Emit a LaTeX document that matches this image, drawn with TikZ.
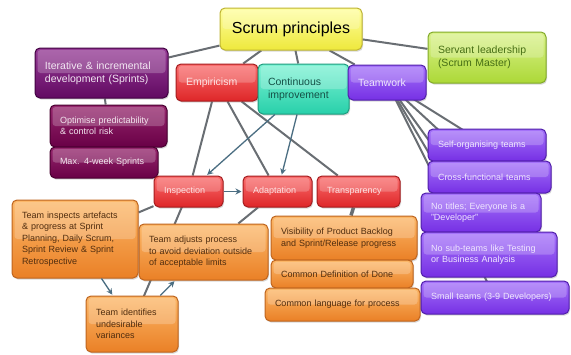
\documentclass[tikz,border=0pt]{standalone}
\usepackage{fontspec}
\setmainfont{Liberation Sans}
\usetikzlibrary{
    positioning,
    arrows.meta,
    shadows,
    backgrounds
}
\definecolor{LinkGray}{RGB}{105,110,115}
\definecolor{ArrowBlue}{RGB}{75,110,130}
\definecolor{YellowTop}{RGB}{255,255,160}
\definecolor{YellowBot}{RGB}{238,232,60}
\definecolor{YellowLine}{RGB}{190,180,50}
\definecolor{GreenTop}{RGB}{218,242,140}
\definecolor{GreenBot}{RGB}{172,216,55}
\definecolor{GreenLine}{RGB}{130,170,40}
\definecolor{GreenText}{RGB}{70,110,20}
\definecolor{PlumTop}{RGB}{150,60,150}
\definecolor{PlumBot}{RGB}{98,10,98}
\definecolor{PlumLine}{RGB}{65,0,65}
\definecolor{MaroonTop}{RGB}{150,40,110}
\definecolor{MaroonBot}{RGB}{105,0,70}
\definecolor{MaroonLine}{RGB}{72,0,48}
\definecolor{RedTop}{RGB}{250,110,110}
\definecolor{RedBot}{RGB}{222,38,40}
\definecolor{RedLine}{RGB}{165,28,30}
\definecolor{TealTop}{RGB}{125,242,212}
\definecolor{TealBot}{RGB}{40,208,170}
\definecolor{TealLine}{RGB}{30,155,125}
\definecolor{TealText}{RGB}{20,80,70}
\definecolor{VioletTop}{RGB}{165,115,250}
\definecolor{VioletBot}{RGB}{118,48,228}
\definecolor{VioletLine}{RGB}{80,30,170}
\definecolor{OrangeTop}{RGB}{252,184,105}
\definecolor{OrangeBot}{RGB}{234,128,38}
\definecolor{OrangeLine}{RGB}{190,100,30}
\definecolor{OrangeText}{RGB}{80,45,15}

\begin{document}
\begin{tikzpicture}[
    x=1pt, y=-1pt,
    cbox/.style={rectangle, rounded corners=5pt, draw, line width=1pt, inner xsep=10pt, inner ysep=2pt, align=left,
        drop shadow={shadow xshift=1pt, shadow yshift=-1.5pt, opacity=0.3},
        path picture={\fill[white, opacity=0.22, rounded corners=3pt]
            ([xshift=2.5pt, yshift=-2pt]path picture bounding box.north west) rectangle
            ([xshift=-2.5pt]path picture bounding box.east);}},
    lvlone/.style={cbox, font=\fontsize{10.5}{13}\selectfont},
    lvltwo/.style={cbox, font=\fontsize{9}{11.5}\selectfont},
    yellowbox/.style={top color=YellowTop, bottom color=YellowBot, draw=YellowLine, text=black},
    greenbox/.style={top color=GreenTop, bottom color=GreenBot, draw=GreenLine, text=GreenText},
    plumbox/.style={top color=PlumTop, bottom color=PlumBot, draw=PlumLine, text=white!88!PlumTop},
    maroonbox/.style={top color=MaroonTop, bottom color=MaroonBot, draw=MaroonLine, text=white!88!MaroonTop},
    redbox/.style={top color=RedTop, bottom color=RedBot, draw=RedLine, text=white!80!RedTop},
    tealbox/.style={top color=TealTop, bottom color=TealBot, draw=TealLine, text=TealText},
    violetbox/.style={top color=VioletTop, bottom color=VioletBot, draw=VioletLine, text=white!82!VioletTop},
    orangebox/.style={top color=OrangeTop, bottom color=OrangeBot, draw=OrangeLine, text=OrangeText},
    link/.style={draw=LinkGray, line width=2pt},
    arr/.style={-{Stealth[length=6pt, width=6pt]}, line width=1.3pt, draw=ArrowBlue, color=ArrowBlue, shorten >=1pt},
]
\useasboundingbox (0,0) rectangle (571,354);

% root and first level
\node[lvlone, yellowbox, align=center, font=\fontsize{16}{19}\selectfont, minimum width=142pt, minimum height=42pt] (scrum) at (291,29) {Scrum principles};
\node[lvlone, greenbox, text width=98pt, minimum height=51pt] (servant) at (487,57.5) {Servant leadership\\(Scrum Master)};
\node[lvlone, plumbox, text width=113pt, minimum height=50pt] (iterative) at (101.5,73) {Iterative \& incremental\\development (Sprints)};
\node[lvlone, redbox, text width=62pt, minimum height=37pt] (empiricism) at (217,82.5) {Empiricism};
\node[lvlone, tealbox, text width=71pt, minimum height=50pt] (improve) at (303.5,89) {Continuous\\improvement};
\node[lvlone, violetbox, text width=58pt, minimum height=35pt] (teamwork) at (387,82.5) {Teamwork};

% sprints
\node[lvltwo, maroonbox, text width=97pt, minimum height=42pt] (predict) at (108.5,126) {Optimise predictability\\\& control risk};
\node[lvltwo, maroonbox, text width=88pt, minimum height=31pt] (sprints) at (104,162.5) {Max. 4-week Sprints};

% three pillars
\node[lvltwo, redbox, text width=49pt, minimum height=31pt] (inspect) at (188.5,191.5) {Inspection};
\node[lvltwo, redbox, text width=49pt, minimum height=31pt] (adapt) at (277.5,191.5) {Adaptation};
\node[lvltwo, redbox, text width=63pt, minimum height=31pt] (transp) at (358.5,191.5) {Transparency};

\node[lvltwo, orangebox, text width=106pt, minimum height=78pt] (artefacts) at (75,239) {Team inspects artefacts\\\& progress at Sprint\\Planning, Daily Scrum,\\Sprint Review \& Sprint\\Retrospective};
\node[lvltwo, orangebox, text width=109pt, minimum height=56pt] (adjusts) at (203.5,252) {Team adjusts process\\to avoid deviation outside\\of acceptable limits};
\node[lvltwo, orangebox, text width=72pt, minimum height=56pt] (variances) at (132,324) {Team identifies\\undesirable\\variances};
\node[lvltwo, orangebox, text width=126pt, minimum height=44pt] (visibility) at (344,238) {Visibility of Product Backlog\\and Sprint/Release progress};
\node[lvltwo, orangebox, text width=122pt, minimum height=28pt] (done) at (342,274) {Common Definition of Done};
\node[lvltwo, orangebox, text width=135pt, minimum height=33pt] (language) at (342.5,304.5) {Common language for process};

% teamwork
\node[lvltwo, violetbox, text width=98pt, minimum height=32pt] (selforg) at (487,145) {Self-organising teams};
\node[lvltwo, violetbox, text width=103pt, minimum height=32pt] (crossfn) at (489.5,177) {Cross-functional teams};
\node[lvltwo, violetbox, text width=100pt, minimum height=39pt] (notitles) at (481,212.5) {No titles; Everyone is a\\"Developer"};
\node[lvltwo, violetbox, text width=116pt, minimum height=45pt] (nosub) at (489,254.5) {No sub-teams like Testing\\or Business Analysis};
\node[lvltwo, violetbox, text width=128pt, minimum height=33pt] (smallteams) at (495,297.5) {Small teams (3-9 Developers)};

% plain links behind the boxes
\begin{scope}[on background layer]
\fill[white] (0,0) rectangle (571,354);
\draw[link] (scrum) -- (iterative);
\draw[link] (scrum) -- (empiricism);
\draw[link] (scrum) -- (improve);
\draw[link] (scrum) -- (teamwork);
\draw[link] (scrum) -- (servant);
\draw[link] (iterative) -- (predict);
\draw[link] (empiricism) -- (inspect);
\draw[link] (empiricism) -- (adapt);
\draw[link] (empiricism) -- (transp);
\draw[link] (inspect) -- (artefacts);
\draw[link] (inspect.center) -- (variances.center);
\draw[link] (adapt) -- (adjusts);
\draw[link, line width=3.5pt] (transp) -- (visibility);
\foreach \child in {selforg, crossfn, notitles, nosub, smallteams}
    \draw[link] (teamwork.center) -- (\child.center);
\end{scope}

% arrows
\draw[arr] (improve) -- (inspect);
\draw[arr] (improve) -- (adapt);
\draw[arr] (inspect) -- (adapt);
\draw[arr] (artefacts) -- (variances);
\draw[arr] (variances) -- (adjusts);
\end{tikzpicture}
\end{document}
